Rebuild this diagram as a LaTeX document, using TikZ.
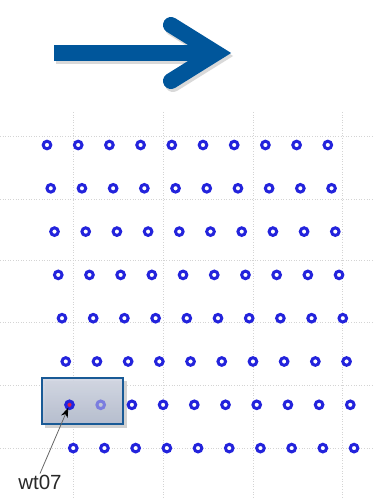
\documentclass[tikz,border=0pt]{standalone}
\usepackage{fontspec}
\setmainfont{Liberation Sans}
\usetikzlibrary{arrows.meta}
\definecolor{arrowblue}{RGB}{0,86,155}
\definecolor{ringblue}{RGB}{35,35,220}
\definecolor{gridgray}{RGB}{212,212,212}
\definecolor{boxborder}{RGB}{25,90,150}
\definecolor{boxtop}{RGB}{210,215,227}
\definecolor{boxbot}{RGB}{180,188,206}
\definecolor{hotred}{RGB}{215,30,75}
\definecolor{labelgray}{RGB}{40,40,40}
\begin{document}
\begin{tikzpicture}[x=1pt,y=-1pt,
  ring/.style={circle,draw=ringblue,line width=3pt,fill=white,minimum size=7.6pt,inner sep=0pt},
  hot/.style={fill=hotred},
  faded/.style={draw=ringblue!50!boxtop,fill=none},
  gridline/.style={gridgray,line width=0.6pt,dotted},
  bigarrow/.style={line width=16pt,line cap=round,line join=miter}]
\useasboundingbox (0,0) rectangle (374,498);
% background grid
\foreach \x in {73,163,253,342} \draw[gridline] (\x,112) -- (\x,498);
\foreach \y in {136,199,260,322,385,448} \draw[gridline] (0,\y) -- (374,\y);
% big arrow shadow
\begin{scope}[shift={(2,3)}]
  \fill[black!15] (54,45) rectangle (212,61);
  \draw[bigarrow,black!15] (171,25) -- (216,53) -- (171,81);
\end{scope}
% big arrow
\fill[arrowblue] (54,45) rectangle (212,61);
\draw[bigarrow,arrowblue] (171,25) -- (216,53) -- (171,81);
% highlight box
\fill[black!18] (45,381) rectangle (127,428);
\node[draw=boxborder,line width=1.6pt,top color=boxtop,bottom color=boxbot,fill opacity=0.92,
  minimum width=81pt,minimum height=46pt,inner sep=0pt] (hl) at (82.5,401) {};
% circles
\foreach \r in {1,...,8}{\foreach \c in {1,...,10}{
  \pgfmathsetmacro\xx{47+(\r-1)*3.75+(\c-1)*31.2}
  \pgfmathsetmacro\yy{145+(\r-1)*43.3}
  \def\extra{}
  \ifnum\r=7 \ifnum\c=1 \def\extra{hot}\fi \ifnum\c=2 \def\extra{faded}\fi\fi
  \node[ring,\extra] (c-\r-\c) at (\xx,\yy) {};
}}
% label
\node[font=\fontsize{20.5}{24}\selectfont,text=labelgray,inner sep=1pt] (wt) at (40,482) {wt07};
\draw[black!60,line width=0.8pt,-{Stealth[length=10pt,width=7pt,inset=3pt,black]},shorten >=3pt]
  (wt.north) -- (c-7-1.center);
\end{tikzpicture}
\end{document}
